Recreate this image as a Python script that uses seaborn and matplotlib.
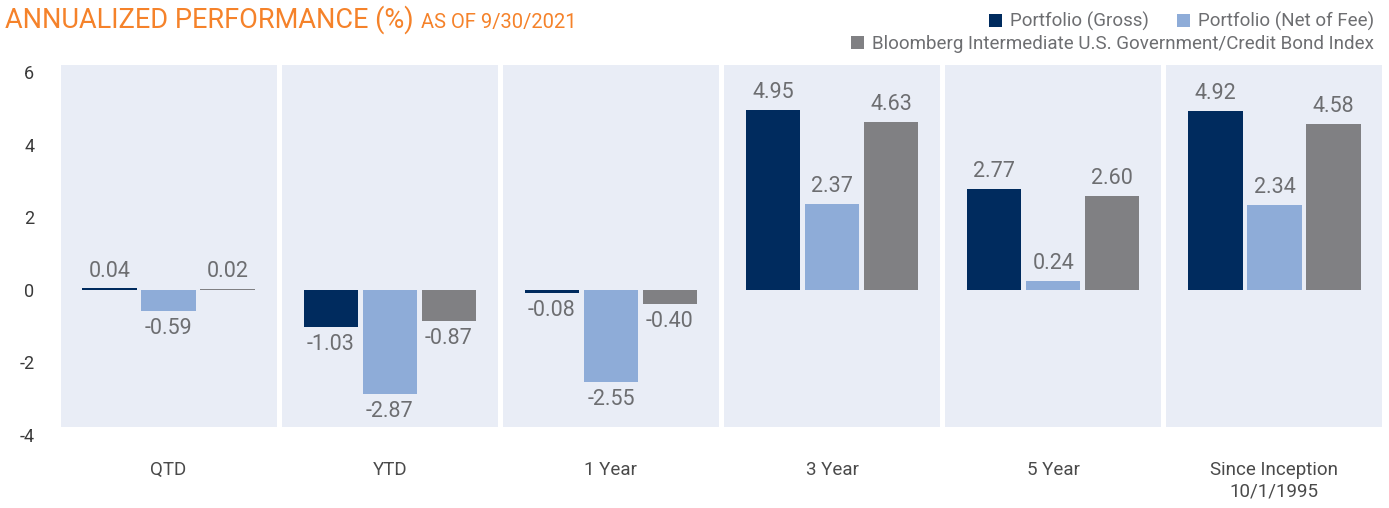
import matplotlib
matplotlib.use("Agg")
import matplotlib.pyplot as plt
import pandas as pd
import seaborn as sns

#data
periods = ["QTD", "YTD", "1 Year", "3 Year", "5 Year", "Since Inception\n10/1/1995"]
series = ["Portfolio (Gross)", "Portfolio (Net of Fee)",
          "Bloomberg Intermediate U.S. Government/Credit Bond Index"]
gross = [0.04, -1.03, -0.08, 4.95, 2.77, 4.92]
net = [-0.59, -2.87, -2.55, 2.37, 0.24, 2.34]
index = [0.02, -0.87, -0.40, 4.63, 2.60, 4.58]
colors = ["#002b5e", "#8eacd8", "#808083"]

df = pd.DataFrame({
    "Period": periods * 3,
    "Series": [series[0]] * 6 + [series[1]] * 6 + [series[2]] * 6,
    "Return": gross + net + index,
})

sns.set_style("white")
plt.rcParams['font.family'] = ['Roboto', 'DejaVu Sans']
text_gray = "#6d6e71"

fig = plt.figure(figsize=(13.89, 5.08), dpi=100)
ax = fig.add_axes([58 / 1389, 1 - 435 / 508, 1327 / 1389, 370 / 508])

sns.barplot(data=df, x="Period", y="Return", hue="Series", palette=colors,
            width=0.8, gap=0.08, saturation=1, linewidth=0, ax=ax, zorder=2)

#light panels behind each group
ax.set_xlim(-0.5, 5.5)
ax.set_ylim(-4, 6.2)
for i in range(len(periods)):
    ax.axvspan(i - 0.5 + 0.012, i + 0.5 - 0.012, ymin=(4 - 3.78) / 10.2, ymax=1,
               color="#e9edf6", zorder=0, lw=0)

for c in ax.containers:
    ax.bar_label(c, fmt="%.2f", padding=5, fontsize=15.5, color=text_gray)

sns.despine(ax=ax, left=True, bottom=True)
ax.set_xlabel("")
ax.set_ylabel("")
ax.set_yticks([-4, -2, 0, 2, 4, 6])
ax.set_yticklabels(["-4", "-2", "0", "2", "4", "6"])
ax.tick_params(axis="y", length=0, pad=17, labelsize=13, labelcolor="#3a3a3a")
ax.tick_params(axis="x", length=0, pad=19, labelsize=13.5, labelcolor="#4a4a4a")

handles, labels = ax.get_legend_handles_labels()
ax.get_legend().remove()
leg1 = fig.legend(handles[:2], labels[:2], loc="upper right", bbox_to_anchor=(0.993, 0.987),
                  ncol=2, frameon=False, fontsize=13.5, handlelength=0.7, handleheight=0.7,
                  handletextpad=0.4, columnspacing=1.5, borderaxespad=0, borderpad=0.3)
leg2 = fig.legend(handles[2:], labels[2:], loc="upper right", bbox_to_anchor=(0.993, 0.942),
                  frameon=False, fontsize=13.5, handlelength=0.7, handleheight=0.7,
                  handletextpad=0.4, borderaxespad=0, borderpad=0.3)
for lg in (leg1, leg2):
    for t in lg.get_texts():
        t.set_color(text_gray)

#title in two sizes
orange = "#f5822a"
t1 = fig.text(5 / 1389, 1 - 28 / 508, "ANNUALIZED PERFORMANCE (%)", fontsize=19.5,
              color=orange, va="baseline", ha="left")
fig.canvas.draw()
bb = t1.get_window_extent()
fig.text((bb.x1 + 7) / 1389, 1 - 28 / 508, "AS OF 9/30/2021", fontsize=14.5,
         color=orange, va="baseline", ha="left")

fig.savefig("out.png", dpi=100)
